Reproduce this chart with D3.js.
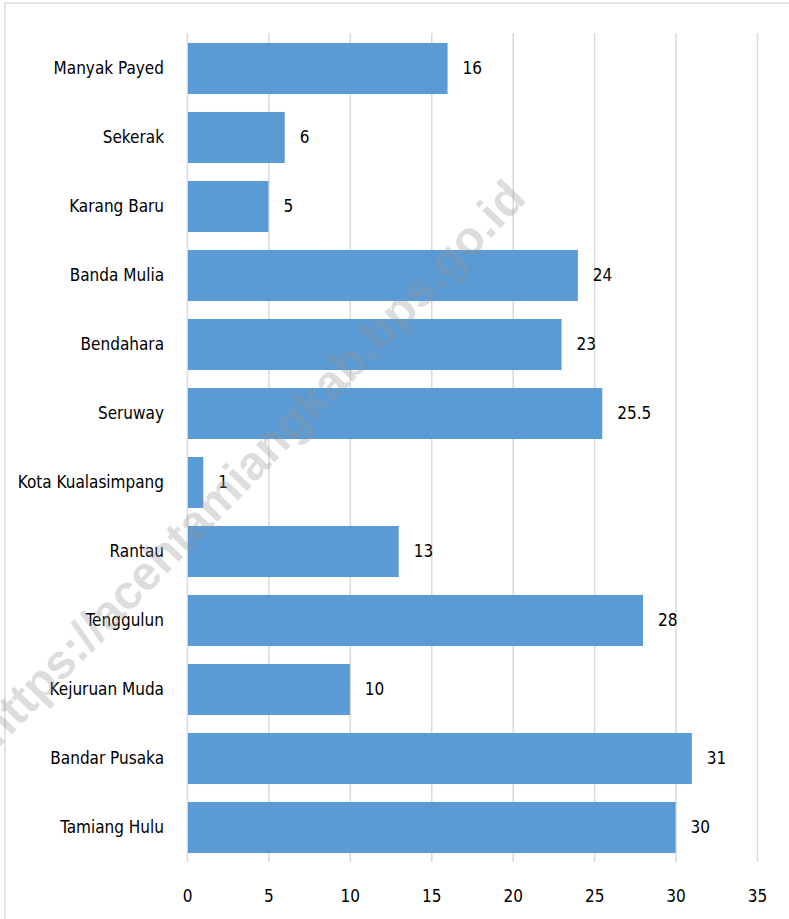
<!doctype html>
<html lang=en>
<head>
<meta charset=utf-8>
<title>Bar chart</title>
<script src="https://d3js.org/d3.v7.min.js"></script>
<style>
  body { margin: 0; background: #fff; }
  text { font-family: "DejaVu Sans Condensed", "DejaVu Sans", sans-serif; font-stretch: condensed; fill: #000; }
</style>
</head>
<body>
<div id="container"></div>
<script>
    var categories = ["Manyak Payed", "Sekerak", "Karang Baru", "Banda Mulia", "Bendahara", "Seruway",
        "Kota Kualasimpang", "Rantau", "Tenggulun", "Kejuruan Muda", "Bandar Pusaka", "Tamiang Hulu"];
    var values = [16, 6, 5, 24, 23, 25.5, 1, 13, 28, 10, 31, 30];
    var xTicks = [0, 5, 10, 15, 20, 25, 30, 35];

    var w = 789;
    var h = 919;
    var svg = d3.select("#container").append("svg")
        .attr("width", w).attr("height", h);

    // outer frame
    svg.append("rect")
        .attr("x", 5).attr("y", 3).attr("width", w + 10).attr("height", h + 10)
        .attr("fill", "none").attr("stroke", "#d9d9d9").attr("stroke-width", 1.5);

    var x = d3.scaleLinear().domain([0, 35]).range([187, 757]);
    var y = d3.scaleBand().domain(categories).range([34, 862])
        .paddingInner(0.26).paddingOuter(0.13);

    // grid lines
    svg.append("g")
        .attr("transform", "translate(0,862)")
        .call(d3.axisBottom(x).tickValues(xTicks).tickSize(-829).tickFormat(""))
        .call(function(g) {
            g.select(".domain").remove();
            g.selectAll("line").attr("stroke", "#d9d9d9").attr("stroke-width", 1.5);
        });

    // x tick labels
    svg.append("g")
        .attr("transform", "translate(0,862)")
        .call(d3.axisBottom(x).tickValues(xTicks).tickSize(0).tickPadding(28))
        .call(function(g) {
            g.select(".domain").remove();
            g.selectAll("text").style("font-size", "17px");
        });

    // bars
    svg.selectAll("rect.bar")
        .data(values)
        .enter()
        .append("rect")
        .attr("class", "bar")
        .attr("x", x(0) + 1)
        .attr("y", function(d, i) { return y(categories[i]); })
        .attr("width", function(d) { return x(d) - x(0) - 1; })
        .attr("height", y.bandwidth())
        .attr("fill", "#5b9bd5");

    // category labels
    svg.append("g")
        .attr("transform", "translate(187,0)")
        .call(d3.axisLeft(y).tickSize(0).tickPadding(23))
        .call(function(g) {
            g.select(".domain").remove();
            g.selectAll("text").style("font-size", "17px");
        });

    // value labels
    svg.selectAll("text.val")
        .data(values)
        .enter()
        .append("text")
        .attr("class", "val")
        .attr("x", function(d) { return x(d) + 15; })
        .attr("y", function(d, i) { return y(categories[i]) + y.bandwidth() / 2; })
        .attr("dy", "0.35em")
        .style("font-size", "17px")
        .text(function(d) { return d; });

    // watermark
    svg.append("text")
        .attr("transform", "translate(528,200) rotate(-46)")
        .attr("text-anchor", "end")
        .style("font-family", "'Liberation Sans', Arial, sans-serif")
        .style("font-stretch", "normal")
        .style("font-weight", "bold")
        .style("font-size", "48px")
        .style("fill", "#969696")
        .style("fill-opacity", 0.32)
        .text("https://acehtamiangkab.bps.go.id");
</script>
</body>
</html>
